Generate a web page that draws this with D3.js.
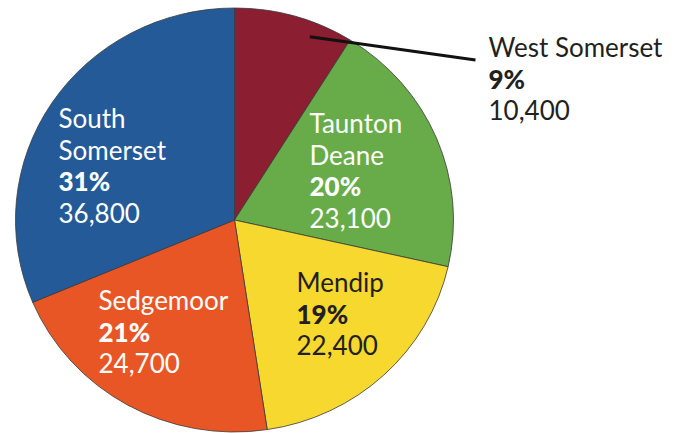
<!DOCTYPE html>
<html>
<head>
<meta charset="utf-8">
<script src="https://cdn.jsdelivr.net/npm/d3@7"></script>
<style>
  body { margin: 0; background: #fff; }
  svg text { font-family: Lato, "Open Sans", sans-serif; font-size: 26px; font-weight: 400; }
</style>
</head>
<body>
<div id="chart"></div>
<script>
// districts, clockwise from 12 o'clock
var districts = ["West Somerset", "Taunton Deane", "Mendip", "Sedgemoor", "South Somerset"];
var population = [10400, 23100, 22400, 24700, 36800];
var colours = ["#8b1e30", "#67ac48", "#f6d82e", "#e95625", "#245a98"];
var textColours = ["#231f20", "#fff", "#231f20", "#fff", "#fff"];

// label anchor (left x, first baseline) relative to the pie centre, and how the name wraps
var labelPos = {
  "West Somerset": { x: 254, y: -163, lines: ["West Somerset"] },
  "Taunton Deane": { x: 75, y: -87, lines: ["Taunton", "Deane"] },
  "Mendip": { x: 62, y: 72, lines: ["Mendip"] },
  "Sedgemoor": { x: -136, y: 90, lines: ["Sedgemoor"] },
  "South Somerset": { x: -176, y: -92, lines: ["South", "Somerset"] }
};

var w = 679, h = 434;
var cx = 234.5, cy = 220;
var r = 219;
var squash = 212 / 219;   // the original pie is slightly flattened
var lineH = 31.5;

var total = d3.sum(population);
var pct = function(v) { return Math.round(v / total * 100) + "%"; };
var fmt = d3.format(",");

var svg = d3.select("#chart")
    .append("svg")
    .attr("width", w)
    .attr("height", h);

var pie = d3.pie().sort(null).value(function(d) { return d; });
var arcs = pie(population);

var arc = d3.arc().innerRadius(0).outerRadius(r);

var pieG = svg.append("g")
    .attr("transform", "translate(" + cx + "," + cy + ") scale(1," + squash + ")");

pieG.selectAll("path")
    .data(arcs)
    .enter()
    .append("path")
    .attr("d", arc)
    .attr("fill", function(d, i) { return colours[i]; })
    .attr("stroke", "#3a3a3a")
    .attr("stroke-width", 0.8)
    .attr("vector-effect", "non-scaling-stroke");

// leader line from inside the West Somerset slice out to its label
var ws = arcs[0];
var start = d3.pointRadial(ws.startAngle + (ws.endAngle - ws.startAngle) * 0.68, r * 0.93);
svg.append("line")
    .attr("x1", cx + start[0])
    .attr("y1", cy + start[1] * squash)
    .attr("x2", cx + labelPos["West Somerset"].x - 13)
    .attr("y2", cy + labelPos["West Somerset"].y + 3)
    .attr("stroke", "#111")
    .attr("stroke-width", 3);

// labels: name lines, bold percentage, count
var labels = svg.selectAll("g.label")
    .data(districts)
    .enter()
    .append("g")
    .attr("class", "label")
    .attr("transform", function(d) {
        return "translate(" + (cx + labelPos[d].x) + "," + (cy + labelPos[d].y) + ")";
    })
    .style("fill", function(d, i) { return textColours[i]; });

labels.each(function(d, i) {
    var g = d3.select(this);
    var lines = labelPos[d].lines;
    lines.forEach(function(l, j) {
        g.append("text").attr("y", j * lineH).text(l);
    });
    g.append("text")
        .attr("y", lines.length * lineH)
        .style("font-weight", "900")
        .text(pct(population[i]));
    g.append("text")
        .attr("y", (lines.length + 1) * lineH)
        .text(fmt(population[i]));
});
</script>
</body>
</html>
